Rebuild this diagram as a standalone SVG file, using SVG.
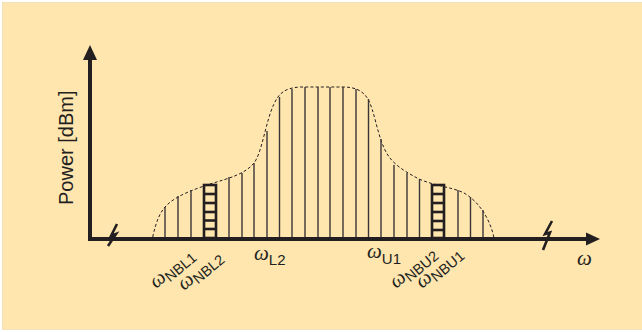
<svg xmlns="http://www.w3.org/2000/svg" width="642" height="332" viewBox="0 0 642 332">
<defs>
<style>
.bg{fill:#FFE5AE;stroke:#E8D6B0;stroke-width:0.6}
.axis{stroke:#231F20;stroke-width:4;fill:none}
.head{fill:#231F20}
.brk{stroke:#231F20;stroke-width:2.6;fill:none;stroke-linejoin:miter}
.env{stroke:#231F20;stroke-width:1;fill:none;stroke-dasharray:3,2.2}
.bar{stroke:#3a3637;stroke-width:1.4}
.lad{stroke:#231F20;stroke-width:2.6;fill:none}
.rung{stroke:#231F20;stroke-width:2.6}
.w{font-family:"Liberation Serif",serif;font-style:italic;font-size:21px;fill:#231F20}
.s{font-family:"Liberation Sans",Arial,sans-serif;font-style:normal;font-size:15px;fill:#231F20}
.rs{font-family:"Liberation Sans",Arial,sans-serif;font-style:normal;font-size:14.5px;fill:#231F20}
.ylab{font-family:"Liberation Sans",Arial,sans-serif;font-size:20px;fill:#231F20}
</style>
</defs>
<rect class="bg" x="2.5" y="2.5" width="640" height="327"/>
<g id="spectrum">
<path class="env" d="M152.7,237 C156,222 160,211 168,204 C178,195 195,189 210,184 C230,178 245,174 254,163 C262,153 266,120 274,104 C279,93 285,88 300,87 L342,87 C355,87 362,90 368,99 C374,110 377,132 384,148 C390,161 398,168 419,179 C435,186 452,187 464,193 C478,201 490,218 494,238"/>
<g id="bars">
<line class="bar" x1="165" y1="237" x2="165" y2="207"/>
<line class="bar" x1="178" y1="237" x2="178" y2="196"/>
<line class="bar" x1="191" y1="237" x2="191" y2="190"/>
<line class="bar" x1="229" y1="237" x2="229" y2="177"/>
<line class="bar" x1="242" y1="237" x2="242" y2="173"/>
<line class="bar" x1="254" y1="237" x2="254" y2="163"/>
<line class="bar" x1="267" y1="237" x2="267" y2="131"/>
<line class="bar" x1="279.5" y1="237" x2="279.5" y2="97"/>
<line class="bar" x1="292" y1="237" x2="292" y2="89"/>
<line class="bar" x1="305" y1="237" x2="305" y2="87"/>
<line class="bar" x1="318" y1="237" x2="318" y2="87"/>
<line class="bar" x1="330" y1="237" x2="330" y2="87"/>
<line class="bar" x1="343" y1="237" x2="343" y2="87"/>
<line class="bar" x1="356" y1="237" x2="356" y2="89"/>
<line class="bar" x1="368.5" y1="237" x2="368.5" y2="99"/>
<line class="bar" x1="381" y1="237" x2="381" y2="139"/>
<line class="bar" x1="394" y1="237" x2="394" y2="165"/>
<line class="bar" x1="407" y1="237" x2="407" y2="173"/>
<line class="bar" x1="419.5" y1="237" x2="419.5" y2="179"/>
<line class="bar" x1="458" y1="237" x2="458" y2="190"/>
<line class="bar" x1="470.5" y1="237" x2="470.5" y2="197"/>
<line class="bar" x1="483" y1="237" x2="483" y2="210"/>
</g>
</g>
<g id="ladder-NBL">
<rect class="lad" x="204" y="185" width="12" height="53"/>
<line class="rung" x1="204" y1="194" x2="216" y2="194"/>
<line class="rung" x1="204" y1="203" x2="216" y2="203"/>
<line class="rung" x1="204" y1="212" x2="216" y2="212"/>
<line class="rung" x1="204" y1="220.5" x2="216" y2="220.5"/>
<line class="rung" x1="204" y1="229" x2="216" y2="229"/>
</g>
<g id="ladder-NBU">
<rect class="lad" x="432" y="185" width="12" height="53"/>
<line class="rung" x1="432" y1="194" x2="444" y2="194"/>
<line class="rung" x1="432" y1="203" x2="444" y2="203"/>
<line class="rung" x1="432" y1="212" x2="444" y2="212"/>
<line class="rung" x1="432" y1="221" x2="444" y2="221"/>
<line class="rung" x1="432" y1="230" x2="444" y2="230"/>
</g>
<g id="axes">
<path class="axis" d="M90,241 L90,58"/>
<polygon class="head" points="90,45 83,60 97,60"/>
<path class="axis" d="M88,239 L588,239"/>
<polygon class="head" points="600,239 586,232.5 586,245.5"/>
<polyline class="brk" points="117,224 111,236 116,234 108,246"/>
<polyline class="brk" points="552,221 545,234 550,232.5 543,250"/>
</g>
<g id="labels">
<text class="ylab" transform="translate(73,205) rotate(-90)">Power [dBm]</text>
<g transform="translate(156,289) rotate(-40)"><text class="w" x="0" y="0">ω<tspan class="rs" dy="4">NBL1</tspan></text></g>
<g transform="translate(184,291) rotate(-40)"><text class="w" x="0" y="0">ω<tspan class="rs" dy="4">NBL2</tspan></text></g>
<text class="w" x="254" y="260">ω<tspan class="s" dy="5">L2</tspan></text>
<text class="w" x="367" y="258">ω<tspan class="s" dy="6">U1</tspan></text>
<g transform="translate(396,289) rotate(-40)"><text class="w" x="0" y="0">ω<tspan class="rs" dy="4">NBU2</tspan></text></g>
<g transform="translate(422,289) rotate(-40)"><text class="w" x="0" y="0">ω<tspan class="rs" dy="4">NBU1</tspan></text></g>
<text class="w" x="577" y="265">ω</text>
</g>
</svg>
